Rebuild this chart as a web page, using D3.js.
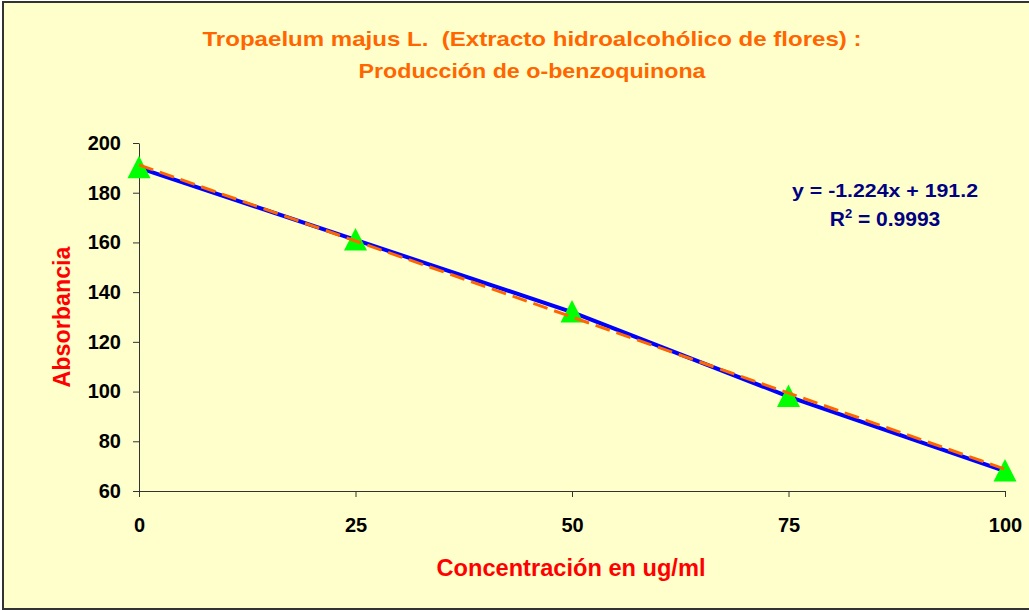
<!DOCTYPE html>
<html>
<head>
<meta charset="utf-8">
<script src="https://cdn.jsdelivr.net/npm/d3@7"></script>
<style>
  html, body { margin: 0; padding: 0; background: #ffffff; }
  svg { display: block; font-family: "Liberation Sans", Arial, sans-serif; font-weight: bold; }
</style>
</head>
<body>
<div id="chart"></div>
<script>
// Datos
const concentraciones = [0, 25, 50, 75, 100];
const absorbancias = [190, 161, 132, 98, 68];
const xTicks = [0, 25, 50, 75, 100];
const yTicks = [60, 80, 100, 120, 140, 160, 180, 200];
const pendiente = -1.224;
const intercepto = 191.2;
const titulo = ["Tropaelum majus L.  (Extracto hidroalcohólico de flores) :", "Producción de o-benzoquinona"];

const width = 1029, height = 611;

const svg = d3.select("#chart")
    .append("svg")
    .attr("width", width)
    .attr("height", height);

// Fondo y borde
svg.append("rect")
    .attr("x", 3).attr("y", 2)
    .attr("width", width + 10).attr("height", 607)
    .attr("fill", "#ffffcc")
    .attr("stroke", "#333333")
    .attr("stroke-width", 2);

// Escalas
const x = d3.scaleLinear().domain([0, 100]).range([139, 1005]);
const y = d3.scaleLinear().domain([60, 200]).range([491, 143]);

// Eje Y
const ejeY = svg.append("g")
    .attr("transform", `translate(${x(0)},0)`)
    .call(d3.axisLeft(y).tickValues(yTicks).tickSize(6).tickPadding(12).tickSizeOuter(0));

// Eje X
const ejeX = svg.append("g")
    .attr("transform", `translate(0,${y(60)})`)
    .call(d3.axisBottom(x).tickValues(xTicks).tickSize(6).tickPadding(21).tickSizeOuter(0));

[ejeX, ejeY].forEach(g => {
  g.select(".domain").attr("stroke", "#333333");
  g.selectAll(".tick line").attr("stroke", "#333333");
  g.selectAll(".tick text")
      .attr("fill", "#000000")
      .style("font-size", "20px")
      .style("font-family", "'Liberation Sans', Arial, sans-serif")
      .style("font-weight", "bold");
});

// Serie (línea azul)
const puntos = concentraciones.map((c, i) => [c, absorbancias[i]]);
svg.append("path")
    .datum(puntos)
    .attr("fill", "none")
    .attr("stroke", "#0000ff")
    .attr("stroke-width", 4)
    .attr("d", d3.line().x(d => x(d[0])).y(d => y(d[1])));

// Marcadores triangulares
svg.selectAll("path.marca")
    .data(puntos)
    .enter()
    .append("path")
    .attr("class", "marca")
    .attr("transform", d => `translate(${x(d[0])},${y(d[1])})`)
    .attr("d", "M0,-12L11.5,10.5L-11.5,10.5Z")
    .attr("fill", "#00ff00");

// Línea de tendencia
const tendencia = [0, 100].map(c => [c, intercepto + pendiente * c]);
svg.append("path")
    .datum(tendencia)
    .attr("fill", "none")
    .attr("stroke", "#ff6600")
    .attr("stroke-width", 3)
    .attr("stroke-dasharray", "15,7")
    .attr("d", d3.line().x(d => x(d[0])).y(d => y(d[1])));

// Título
svg.selectAll("text.titulo")
    .data(titulo)
    .enter()
    .append("text")
    .attr("class", "titulo")
    .attr("x", 532)
    .attr("y", (d, i) => 46 + i * 32)
    .attr("text-anchor", "middle")
    .attr("fill", "#ff6600")
    .style("font-size", "20.5px")
    .style("white-space", "pre")
    .attr("textLength", (d, i) => i === 0 ? 659 : 347)
    .attr("lengthAdjust", "spacingAndGlyphs")
    .text(d => d);

// Títulos de ejes
svg.append("text")
    .attr("x", 571)
    .attr("y", 576)
    .attr("text-anchor", "middle")
    .attr("fill", "#ff0000")
    .style("font-size", "23px")
    .attr("textLength", 269)
    .attr("lengthAdjust", "spacingAndGlyphs")
    .text("Concentración en ug/ml");

svg.append("text")
    .attr("transform", "translate(70,317) rotate(-90)")
    .attr("text-anchor", "middle")
    .attr("fill", "#ff0000")
    .style("font-size", "23px")
    .attr("textLength", 141)
    .attr("lengthAdjust", "spacingAndGlyphs")
    .text("Absorbancia");

// Ecuación
svg.append("text")
    .attr("x", 885)
    .attr("y", 197)
    .attr("text-anchor", "middle")
    .attr("fill", "#000080")
    .style("font-size", "19px")
    .attr("textLength", 186)
    .attr("lengthAdjust", "spacingAndGlyphs")
    .text(`y = ${pendiente}x + ${intercepto}`);

const r2 = svg.append("text")
    .attr("x", 885)
    .attr("y", 226)
    .attr("text-anchor", "middle")
    .attr("fill", "#000080")
    .style("font-size", "21px");
r2.append("tspan").text("R");
r2.append("tspan").attr("dy", -8).style("font-size", "13px").text("2");
r2.append("tspan").attr("dy", 8).text(" = 0.9993");
</script>
</body>
</html>
